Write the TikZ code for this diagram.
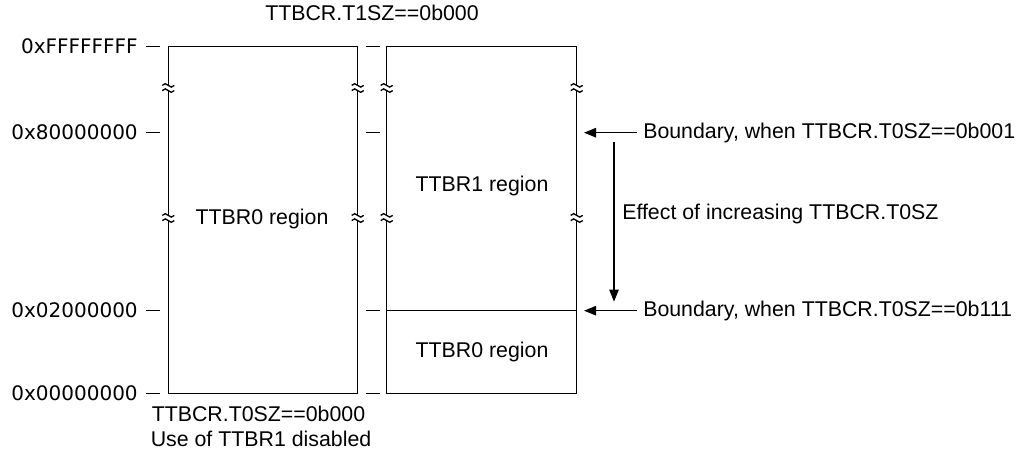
\documentclass[tikz,border=0pt]{standalone}
\usepackage{fontspec}
\setmainfont{Liberation Sans}
\newfontfamily\addrfont{DejaVu Sans}
\usetikzlibrary{arrows.meta}
\begin{document}
\begin{tikzpicture}[x=0.75pt,y=-0.75pt,
  every node/.style={inner sep=0pt,font=\fontsize{16pt}{19pt}\selectfont},
  ln/.style={line width=1.1pt,draw=black},
  arr/.style={line width=1.1pt,-{Triangle[length=9pt,width=7pt]}},
  addr/.style={anchor=east,font=\addrfont\fontsize{15pt}{18pt}\selectfont},
  lbl/.style={anchor=west}]
\useasboundingbox (0,0) rectangle (1032,452);
% boxes
\draw[ln] (168.3,46.7) rectangle (357.7,393.3);
\draw[ln] (386.7,46.7) rectangle (576.7,393.3);
\draw[ln] (386.7,310.7) -- (576.7,310.7);
% break marks
\newcommand{\brkmark}[2]{%
  \fill[white] (#1-3,#2-2.6) rectangle (#1+3,#2+2.6);
  \draw[line width=1pt] (#1-6,#2-2.6) sin (#1-3,#2-4.3) cos (#1,#2-2.6) sin (#1+3,#2-0.9) cos (#1+6,#2-2.6);
  \draw[line width=1pt] (#1-6,#2+2.6) sin (#1-3,#2+0.9) cos (#1,#2+2.6) sin (#1+3,#2+4.3) cos (#1+6,#2+2.6);}
\foreach \xx in {168.3,357.7,386.7,576.7}{
  \brkmark{\xx}{88}
}
\foreach \xx in {168.3,357.7,386.7,576.7}{
  \brkmark{\xx}{218}
}
% address labels and ticks
\foreach \yy/\tx [count=\i] in {46.7/0xFFFFFFFF,132.7/0x80000000,310.7/0x02000000,393.3/0x00000000}{
  \node[addr] (a\i) at (138,\yy) {\tx};
  \coordinate (tl\i) at (146,\yy);
  \coordinate (tr\i) at (160,\yy);
  \draw[ln] (tl\i) -- (tr\i);
  \coordinate (ml\i) at (365.7,\yy);
  \coordinate (mr\i) at (380,\yy);
  \draw[ln] (ml\i) -- (mr\i);
}
% texts
\node (t1sz) at (372,13) {TTBCR.T1SZ==0b000};
\node (r0a) at (262,219) {TTBR0 region};
\node (r1) at (482,186) {TTBR1 region};
\node (r0b) at (482,352) {TTBR0 region};
\node[lbl] (t0sz) at (151.5,414) {TTBCR.T0SZ==0b000};
\node[lbl] (dis) at (150.5,439) {Use of TTBR1 disabled};
\node[lbl] (b1) at (643,132.7) {Boundary, when TTBCR.T0SZ==0b001};
\node[lbl] (b7) at (643,310.7) {Boundary, when TTBCR.T0SZ==0b111};
\node[lbl] (eff) at (622,214) {Effect of increasing TTBCR.T0SZ};
% arrows
\coordinate (e1) at (584,132.7);
\coordinate (e7) at (584,310.7);
\coordinate (s1) at (637,132.7);
\coordinate (s7) at (637,310.7);
\coordinate (vs) at (614,141.7);
\coordinate (ve) at (614,301.7);
\draw[arr] (s1) -- (e1);
\draw[arr] (s7) -- (e7);
\draw[arr] (vs) -- (ve);
\end{tikzpicture}
\end{document}
